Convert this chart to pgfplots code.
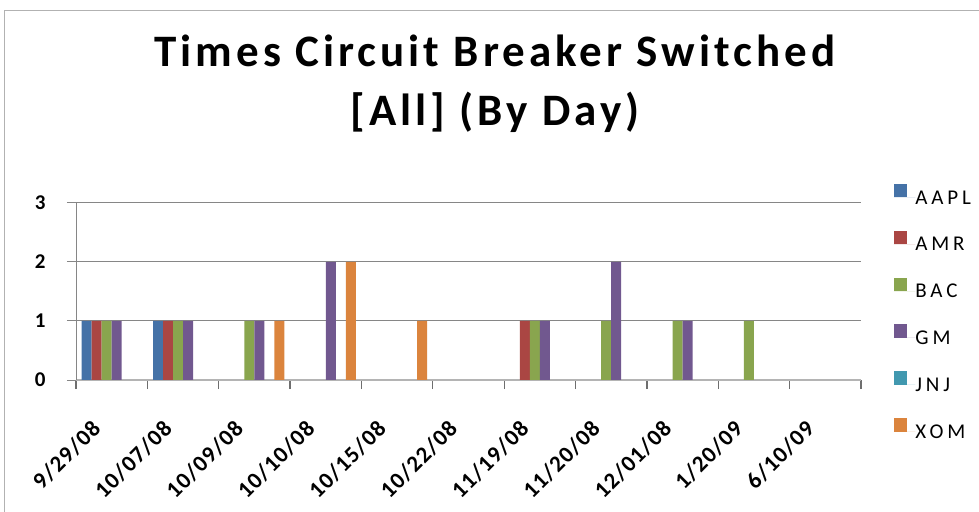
\documentclass[border=0pt]{standalone}
\usepackage{fontspec}
\setmainfont{Carlito}
\newfontfamily\titlefont[LetterSpace=9]{Carlito}
\newfontfamily\tickfont[LetterSpace=5]{Carlito}
\newfontfamily\legfont[LetterSpace=18]{Carlito}
\usepackage{pgfplots}
\pgfplotsset{compat=1.18}
\definecolor{cAAPL}{HTML}{4572A7}
\definecolor{cAMR}{HTML}{AA4643}
\definecolor{cBAC}{HTML}{89A54E}
\definecolor{cGM}{HTML}{71588F}
\definecolor{cJNJ}{HTML}{4198AF}
\definecolor{cXOM}{HTML}{DB843D}
\definecolor{gridc}{HTML}{868686}
\definecolor{tickc}{HTML}{6E6E6E}
\definecolor{basec}{HTML}{B4B4B4}
\begin{document}
\begin{tikzpicture}
\draw[gray!60, line width=1bp] (4.5bp,-20bp) -- (4.5bp,501.5bp) -- (1000bp,501.5bp);
\node[anchor=base, font=\titlefont\bfseries\fontsize{45bp}{54bp}\selectfont] at (495bp,445bp) {Times Circuit Breaker Switched};
\node[anchor=base, font=\titlefont\bfseries\fontsize{45bp}{54bp}\selectfont] at (495bp,386bp) {[All] (By Day)};
\begin{axis}[
  at={(76bp,132bp)}, anchor=south west,
  width=785bp, height=177bp, scale only axis,
  xmin=-0.5, xmax=10.5, ymin=0, ymax=3,
  ybar=0pt, bar width=10bp,
  xtick={-0.5,0.5,1.5,2.5,3.5,4.5,5.5,6.5,7.5,8.5,9.5,10.5},
  xticklabels={},
  extra x ticks={0,1,2,3,4,5,6,7,8,9,10},
  extra x tick labels={9/29/08,10/07/08,10/09/08,10/10/08,10/15/08,10/22/08,11/19/08,11/20/08,12/01/08,1/20/09,6/10/09},
  extra x tick style={major tick length=0pt, grid=none},
  ytick={0,1,2,3}, yticklabels={0,1,2,3},
  major tick length=9bp,
  tick align=outside,
  xtick style={draw=tickc, line width=1.3bp},
  ytick style={draw=gridc, line width=1bp},
  axis x line*=bottom, axis y line*=left,
  axis line style={draw=gridc, line width=1bp, -},
  x axis line style={draw=basec, line width=1.8bp},
  ymajorgrids, grid style={draw=gridc, line width=1bp},
  xticklabel style={font=\tickfont\bfseries\fontsize{23bp}{27bp}\selectfont, inner sep=0pt, xshift=-15bp, yshift=-45bp, rotate=45, anchor=east},
  yticklabel style={font=\bfseries\fontsize{21bp}{25bp}\selectfont, xshift=-18bp},
  legend style={draw=none, fill=none, at={(1.042,1.108)}, anchor=north west, inner sep=0pt, outer sep=0pt, row sep=26.6bp, font=\legfont\fontsize{21bp}{25bp}\selectfont, nodes={inner sep=0pt, text height=13.5bp, text depth=0pt}},
  legend cell align=left,
  legend image code/.code={\fill[#1] (0bp,0bp) rectangle (13.5bp,13.5bp); \path (0bp,0bp) -- (21.5bp,0bp);},
]
\addplot[draw=none, fill=cAAPL] coordinates {(0,1) (1,1) (2,0) (3,0) (4,0) (5,0) (6,0) (7,0) (8,0) (9,0) (10,0)};
\addplot[draw=none, fill=cAMR] coordinates {(0,1) (1,1) (2,0) (3,0) (4,0) (5,0) (6,1) (7,0) (8,0) (9,0) (10,0)};
\addplot[draw=none, fill=cBAC] coordinates {(0,1) (1,1) (2,1) (3,0) (4,0) (5,0) (6,1) (7,1) (8,1) (9,1) (10,0)};
\addplot[draw=none, fill=cGM] coordinates {(0,1) (1,1) (2,1) (3,2) (4,0) (5,0) (6,1) (7,2) (8,1) (9,0) (10,0)};
\addplot[draw=none, fill=cJNJ] coordinates {(0,0) (1,0) (2,0) (3,0) (4,0) (5,0) (6,0) (7,0) (8,0) (9,0) (10,0)};
\addplot[draw=none, fill=cXOM] coordinates {(0,0) (1,0) (2,1) (3,2) (4,1) (5,0) (6,0) (7,0) (8,0) (9,0) (10,0)};
\legend{AAPL,AMR,BAC,GM,JNJ,XOM}
\end{axis}
\pgfresetboundingbox
\useasboundingbox (0,0) rectangle (979bp,512bp);
\end{tikzpicture}
\end{document}
